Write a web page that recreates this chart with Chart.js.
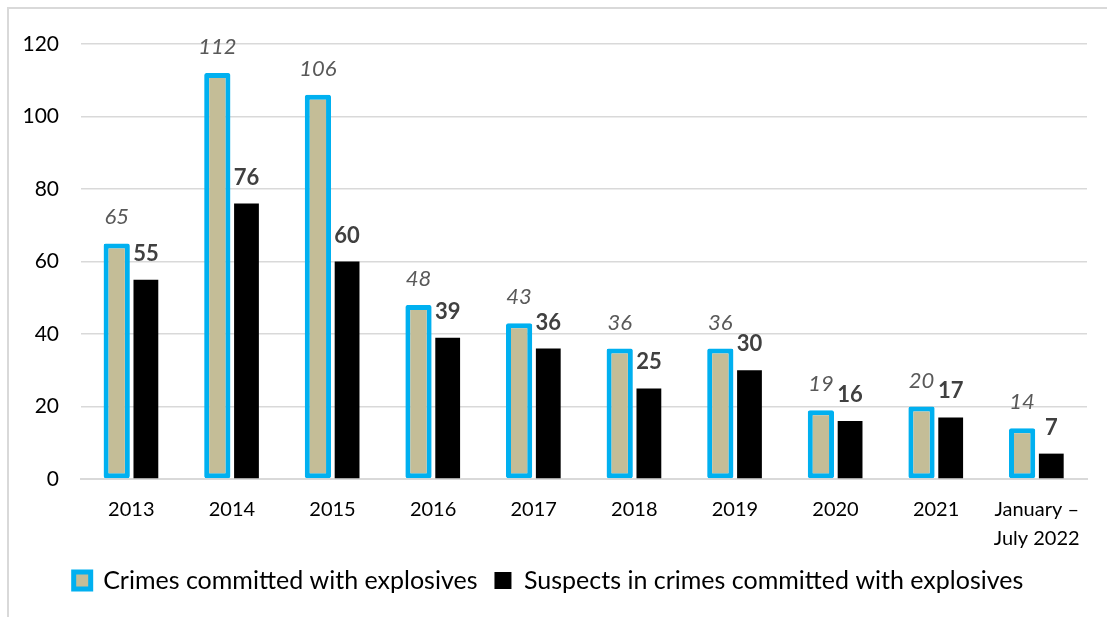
<!DOCTYPE html>
<html>
<head>
<meta charset="utf-8">
<script src="https://cdn.jsdelivr.net/npm/chart.js@4"></script>
<style>
  body { margin: 0; background: #fff; }
  #frame { position: absolute; left: 7px; top: 7px; width: 1110px; height: 620px;
           border-top: 2px solid #d9d9d9; border-left: 2px solid #d9d9d9; }
  #wrap { position: absolute; left: 0; top: 0; width: 1107px; height: 617px; }
</style>
</head>
<body>
<div id="frame"></div>
<div id="wrap"><canvas id="chart"></canvas></div>
<script>
const years = ['2013', '2014', '2015', '2016', '2017', '2018', '2019', '2020', '2021', ['January –', 'July 2022']];
const crimes = [65, 112, 106, 48, 43, 36, 36, 19, 20, 14];
const suspects = [55, 76, 60, 39, 36, 25, 30, 16, 17, 7];
const yTicks = [0, 20, 40, 60, 80, 100, 120];

const FONT = 'Lato, "Open Sans", sans-serif';

// value labels above each bar
const barLabels = {
  id: 'barLabels',
  afterLayout(chart) {
    // x axis box is squeezed in afterFit, let its labels draw past it
    chart.scales.x.bottom = chart.height;
  },
  afterDatasetsDraw(chart) {
    const ctx = chart.ctx;
    ctx.save();
    ctx.textAlign = 'center';
    ctx.textBaseline = 'bottom';
    chart.data.datasets.forEach((ds, di) => {
      const meta = chart.getDatasetMeta(di);
      meta.data.forEach((bar, i) => {
        if (di === 0) {
          ctx.font = 'italic 22px ' + FONT;
          ctx.fillStyle = '#595959';
        } else {
          ctx.font = 'bold 22px ' + FONT;
          ctx.fillStyle = '#404040';
        }
        ctx.fillText(ds.data[i], bar.x, bar.y - 15);
      });
    });
    ctx.restore();
  }
};

new Chart(document.getElementById('chart'), {
  type: 'bar',
  data: {
    labels: years,
    datasets: [
      {
        label: 'Crimes committed with explosives',
        data: crimes,
        backgroundColor: '#c4bd97',
        borderColor: '#00b0f0',
        borderWidth: 5,
        borderRadius: 2,
        borderSkipped: false,
        categoryPercentage: 0.58,
        barPercentage: 0.9
      },
      {
        label: 'Suspects in crimes committed with explosives',
        data: suspects,
        backgroundColor: '#000000',
        borderWidth: 0,
        categoryPercentage: 0.58,
        barPercentage: 0.85
      }
    ]
  },
  options: {
    responsive: true,
    maintainAspectRatio: false,
    animation: false,
    layout: { padding: { left: 10, right: 20, top: 44, bottom: 14 } },
    plugins: {
      legend: {
        position: 'bottom',
        labels: {
          font: { family: FONT, size: 25 },
          color: '#000',
          boxWidth: 17,
          boxHeight: 17,
          padding: 17
        }
      },
      tooltip: { enabled: false }
    },
    scales: {
      x: {
        afterFit(scale) { scale.height = 72; },
        grid: { display: false },
        border: { color: '#d9d9d9', width: 2 },
        ticks: { font: { family: FONT, size: 20, lineHeight: 1.45 }, color: '#000', padding: 8, maxRotation: 0 }
      },
      y: {
        min: 0,
        max: 120,
        afterBuildTicks(scale) { scale.ticks = yTicks.map(v => ({ value: v })); },
        afterFit(scale) { scale.width = 71; },
        grid: { color: '#d9d9d9', lineWidth: 1.5, drawTicks: false },
        border: { display: false },
        ticks: { font: { family: FONT, size: 21 }, color: '#000', padding: 22 }
      }
    }
  },
  plugins: [barLabels]
});
</script>
</body>
</html>
